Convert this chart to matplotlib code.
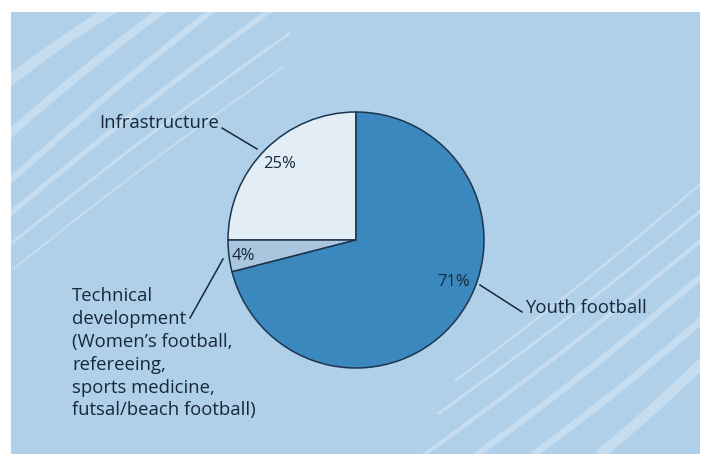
import numpy as np
import matplotlib
matplotlib.use("Agg")
import matplotlib.pyplot as plt

# data
labels = ["Infrastructure",
          "Technical\ndevelopment\n(Women\u2019s football,\nrefereeing,\nsports medicine,\nfutsal/beach football)",
          "Youth football"]
shares = [25, 4, 71]
colors = ["#e3edf5", "#a9c6de", "#3b88be"]

W, H = 705, 454
BG = "#b0cfe9"
STRIPE = "#c6dcef"
INK = "#17283a"

plt.rcParams["font.family"] = ["Open Sans", "DejaVu Sans"]

fig = plt.figure(figsize=(W / 100, H / 100), dpi=100)
fig.patch.set_facecolor("white")
ax = fig.add_axes([0, 0, 1, 1])
ax.set_xlim(0, W)
ax.set_ylim(0, H)
ax.axis("off")

# blue panel
panel = plt.Rectangle((11, 0), 689, H - 12, facecolor=BG, edgecolor="none", zorder=0)
ax.add_patch(panel)

# decorative stripes (pixel coords, y from top), slightly bowed
stripes = [((5, 84), (114, 8), 10, -2), ((5, 138), (165, 8), 8, -3), ((5, 185), (215, 8), 6, -3),
           ((5, 218), (272, 9), 5, -4), ((12, 243), (290, 33), 3, -4), ((12, 270), (283, 67), 2, -4),
           ((455, 381), (704, 181), 2.5, 4), ((438, 414), (704, 208), 3, 4), ((420, 458), (704, 238), 4, 4),
           ((472, 458), (704, 274), 6, 4), ((529, 458), (704, 318), 7, 3), ((596, 458), (704, 361), 10, 2)]
t = np.linspace(0, 1, 40)
for (x0, y0), (x1, y1), lw, bow in stripes:
    xs = x0 + (x1 - x0) * t
    ys = y0 + (y1 - y0) * t + bow * np.sin(np.pi * t)
    ln, = ax.plot(xs, H - ys, color=STRIPE, lw=lw * 0.75, solid_capstyle="butt", zorder=1)
    ln.set_clip_path(panel)

# pie
cx, cy, r = 356, H - 240, 128
wedges, _ = ax.pie(shares, colors=colors, startangle=90, counterclock=True,
                   center=(cx, cy), radius=r,
                   wedgeprops=dict(edgecolor="#1d344d", linewidth=1.1))
for w in wedges:
    w.set_zorder(3)
ax.set_xlim(0, W)
ax.set_ylim(0, H)
ax.set_aspect("auto")

# percentage labels
pct_pos = [(135, 0.845), (188, 0.89), (-23.4, 0.83)]
for v, (ang, d) in zip(shares, pct_pos):
    a = np.deg2rad(ang)
    ax.text(cx + d * r * np.cos(a), cy + d * r * np.sin(a), f"{v}%",
            ha="center", va="center", fontsize=12, color=INK, zorder=4)

# category labels and leader lines
fs = 13.3
ax.plot([222, 257], [H - 128, H - 149], color=INK, lw=1.1, zorder=4)
ax.text(99, H - 123, labels[0], ha="left", va="center", fontsize=fs, color=INK, zorder=4)

ax.plot([190, 223], [H - 318, H - 259], color=INK, lw=1.1, zorder=4)
ax.text(72, H - 287, labels[1], ha="left", va="top", fontsize=fs, color=INK,
        linespacing=1.35, zorder=4)

ax.plot([480, 522], [H - 285, H - 312], color=INK, lw=1.1, zorder=4)
ax.text(525, H - 308, labels[2], ha="left", va="center", fontsize=fs, color=INK, zorder=4)

fig.savefig("out.png", dpi=100, facecolor=fig.get_facecolor())
